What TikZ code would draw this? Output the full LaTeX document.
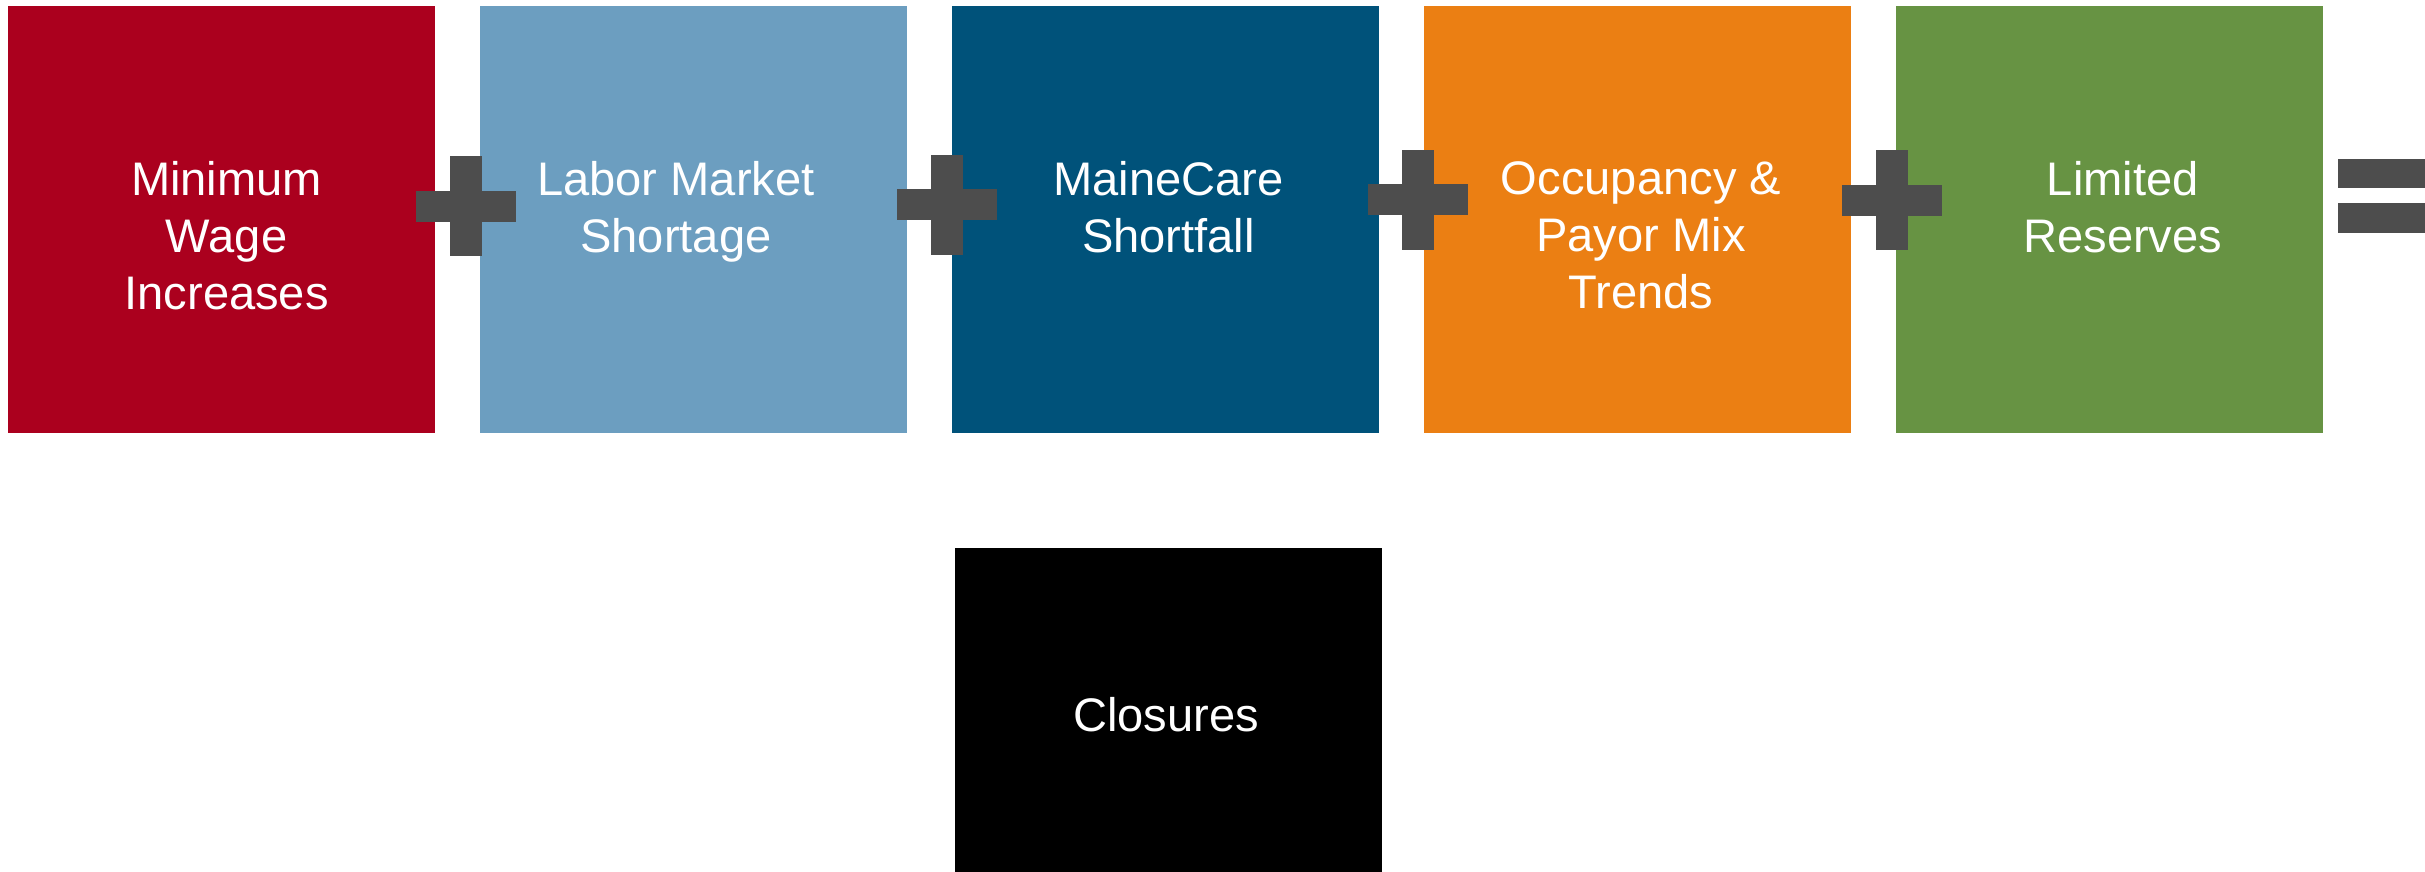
\documentclass[tikz,border=0pt]{standalone}
\usepackage{fontspec}
\setmainfont{Liberation Sans}
\usepackage{tikz}

\definecolor{wagered}{RGB}{171,0,30}
\definecolor{laborblue}{RGB}{108,158,192}
\definecolor{careblue}{RGB}{0,82,122}
\definecolor{payororange}{RGB}{235,127,19}
\definecolor{reservegreen}{RGB}{103,147,67}
\definecolor{signgray}{RGB}{77,77,77}

\begin{document}
\begin{tikzpicture}[
        factor/.style={minimum width=4.27cm, minimum height=4.27cm, inner sep=0, outer sep=0},
        caption/.style={anchor=north, inner sep=0, text=white, align=center, font=\fontsize{13.4}{16.2}\selectfont},
    ]
        \clip (0,0) rectangle (24.25,8.72);
        % the five factors in a row
        \node[factor, fill=wagered] (wage) at (2.215,6.525) {};
        \node[factor, fill=laborblue] (labor) at (6.935,6.525) {};
        \node[factor, fill=careblue] (care) at (11.655,6.525) {};
        \node[factor, fill=payororange] (payor) at (16.375,6.525) {};
        \node[factor, fill=reservegreen] (reserves) at (21.095,6.525) {};
        % the result, running off the bottom
        \node[factor, fill=black] (closures) at (11.685,1.105) {};

        \node[caption] (wagetext) at (2.266,7.11) {Minimum\\Wage\\Increases};
        \node[caption] (labortext) at (6.759,7.11) {Labor Market\\Shortage};
        \node[caption] (caretext) at (11.685,7.11) {MaineCare\\Shortfall};
        \node[caption] (payortext) at (16.41,7.11) {Occupancy \&\\Payor Mix\\Trends};
        \node[caption] (reservestext) at (21.227,7.11) {Limited\\Reserves};
        \node[caption] (closurestext) at (11.66,1.75) {Closures};

        % plus signs between the boxes
        \foreach \x/\y in {4.66/6.655, 9.47/6.67, 14.18/6.72, 18.915/6.715} {
            \fill[signgray] (\x-0.5,\y-0.155) rectangle (\x+0.5,\y+0.155);
            \fill[signgray] (\x-0.16,\y-0.5) rectangle (\x+0.16,\y+0.5);
        }
        % equals sign
        \fill[signgray] (23.38,6.84) rectangle (24.30,7.13);
        \fill[signgray] (23.38,6.39) rectangle (24.30,6.69);
    \end{tikzpicture}
\end{document}
